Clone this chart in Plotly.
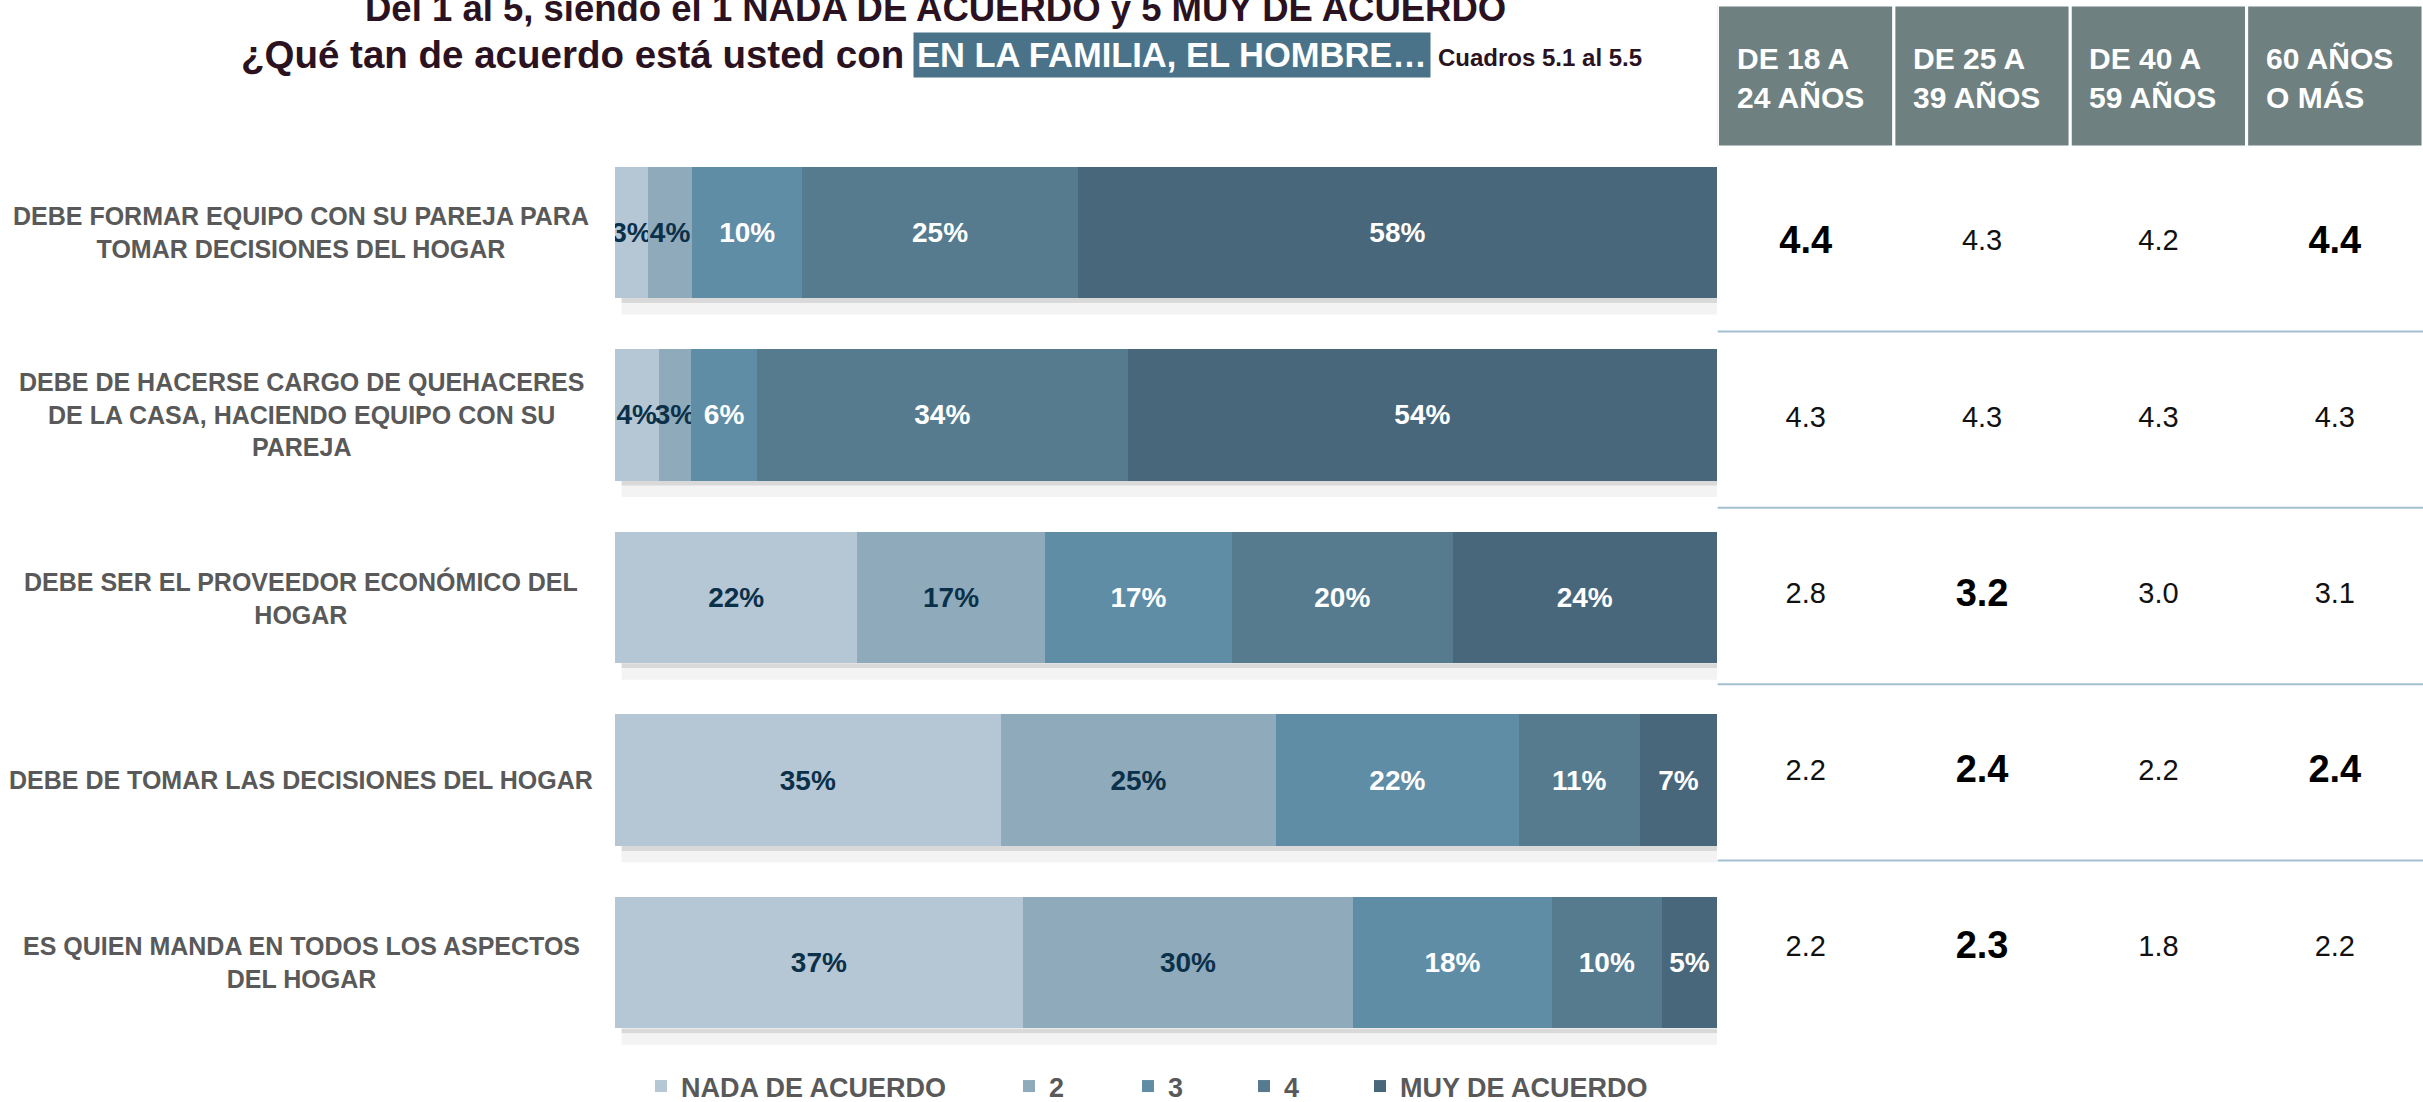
import plotly.graph_objects as go

W, H = 2423, 1102

# ---------------- data ----------------
categories = [
    "DEBE FORMAR EQUIPO CON SU PAREJA PARA<br>TOMAR DECISIONES DEL HOGAR",
    "DEBE DE HACERSE CARGO DE QUEHACERES<br>DE LA CASA, HACIENDO EQUIPO CON SU<br>PAREJA",
    "DEBE SER EL PROVEEDOR ECONÓMICO DEL<br>HOGAR",
    "DEBE DE TOMAR LAS DECISIONES DEL HOGAR",
    "ES QUIEN MANDA EN TODOS LOS ASPECTOS<br>DEL HOGAR",
]
series_names = ["NADA DE ACUERDO", "2", "3", "4", "MUY DE ACUERDO"]
nada_de_acuerdo = [3, 4, 22, 35, 37]
nivel_2 = [4, 3, 17, 25, 30]
nivel_3 = [10, 6, 17, 22, 18]
nivel_4 = [25, 34, 20, 11, 10]
muy_de_acuerdo = [58, 54, 24, 7, 5]

age_groups = ["DE 18 A<br>24 AÑOS", "DE 25 A<br>39 AÑOS", "DE 40 A<br>59 AÑOS", "60 AÑOS<br>O MÁS"]
prom_18_24 = [4.4, 4.3, 2.8, 2.2, 2.2]
prom_25_39 = [4.3, 4.3, 3.2, 2.4, 2.3]
prom_40_59 = [4.2, 4.3, 3.0, 2.2, 1.8]
prom_60_mas = [4.4, 4.3, 3.1, 2.4, 2.2]

# ---------------- style ----------------
FONT = "Liberation Sans, Arial, sans-serif"
bar_colors = ["#b5c7d4", "#8eaabb", "#5f8da6", "#567b8f", "#49677b"]
text_colors = ["#0b3049", "#0b3049", "#ffffff", "#ffffff", "#ffffff"]
legend_x_px = [641, 1009, 1128, 1244, 1360]


def py(px):
    return 1 - px / H


def pxx(px):
    return px / W


fig = go.Figure()

series = [nada_de_acuerdo, nivel_2, nivel_3, nivel_4, muy_de_acuerdo]
legend_ids = ["legend", "legend2", "legend3", "legend4", "legend5"]
for name, vals, col, tcol, lid in zip(series_names, series, bar_colors, text_colors, legend_ids):
    fig.add_trace(go.Bar(
        y=categories, x=vals, orientation="h", name=name,
        marker=dict(color=col, line=dict(width=0)),
        text=[f"{v}%" for v in vals], textposition="inside",
        insidetextanchor="middle", textangle=0, constraintext="none",
        insidetextfont=dict(family=FONT, size=28, color=tcol, weight="bold"),
        legend=lid, hoverinfo="x+y+name",
    ))

# table values
cols = [prom_18_24, prom_25_39, prom_40_59, prom_60_mas]
nx, ny, nt, bx, by, bt = [], [], [], [], [], []
for i, cat in enumerate(categories):
    row = [c[i] for c in cols]
    mx = max(row)
    all_eq = min(row) == mx
    for j, v in enumerate(row):
        if v == mx and not all_eq:
            bx.append(age_groups[j]); by.append(cat); bt.append(f"{v:.1f}")
        else:
            nx.append(age_groups[j]); ny.append(cat); nt.append(f"{v:.1f}")

fig.add_trace(go.Scatter(
    x=nx, y=ny, text=nt, mode="text", xaxis="x2", yaxis="y2",
    textfont=dict(family=FONT, size=29, color="#111111"), showlegend=False,
    hoverinfo="text",
))
fig.add_trace(go.Scatter(
    x=bx, y=by, text=bt, mode="text", xaxis="x2", yaxis="y2",
    textfont=dict(family=FONT, size=38, color="#000000", weight="bold"), showlegend=False,
    hoverinfo="text",
))

shapes = []
annotations = []
n = len(categories)
half = 0.36
for i in range(n):
    shapes.append(dict(type="rect", xref="x", yref="y", x0=0.6, x1=100,
                       y0=i + half, y1=i + half + 0.028, fillcolor="#d9d9d9",
                       line=dict(width=0), layer="below"))
    shapes.append(dict(type="rect", xref="x", yref="y", x0=0.6, x1=100,
                       y0=i + half + 0.028, y1=i + half + 0.09, fillcolor="#f3f3f3",
                       line=dict(width=0), layer="below"))
    annotations.append(dict(
        xref="paper", yref="y", x=pxx(301), y=categories[i],
        text=categories[i], showarrow=False, xanchor="center", yanchor="middle",
        align="center", font=dict(family=FONT, size=25, color="#595959", weight="bold"),
    ))

# header boxes
for j, g in enumerate(age_groups):
    shapes.append(dict(type="rect", xref="x2", yref="paper", x0=j - 0.5, x1=j + 0.5,
                       y0=py(147), y1=py(5), fillcolor="#6f8081",
                       line=dict(color="#ffffff", width=3)))
    annotations.append(dict(
        xref="x2", yref="paper", x=j - 0.5, xshift=17, y=py(78), text=g,
        showarrow=False, xanchor="left", yanchor="middle", align="left",
        font=dict(family=FONT, size=30, color="#ffffff", weight="bold"),
    ))

# table separators
for i in range(n - 1):
    shapes.append(dict(type="line", xref="x2", yref="y2", x0=-0.5, x1=3.5,
                       y0=i + 0.5, y1=i + 0.5, line=dict(color="#a3bfd1", width=2)))

# titles
TCOL = "#2b1221"
annotations += [
    dict(xref="paper", yref="paper", x=pxx(935), y=py(8), xanchor="center", yanchor="middle",
         text="Del 1 al 5, siendo el 1 NADA DE ACUERDO y 5 MUY DE ACUERDO", showarrow=False,
         font=dict(family=FONT, size=36.5, color=TCOL, weight="bold")),
    dict(xref="paper", yref="paper", x=pxx(906), y=py(54), xanchor="right", yanchor="middle",
         text="¿Qué tan de acuerdo está usted con", showarrow=False,
         font=dict(family=FONT, size=38.5, color=TCOL, weight="bold")),
    dict(xref="paper", yref="paper", x=pxx(913), y=py(55), xanchor="left", yanchor="middle",
         text="EN LA FAMILIA, EL HOMBRE…", showarrow=False, bgcolor="#4a7389", borderpad=3,
         font=dict(family=FONT, size=34.5, color="#ffffff", weight="bold")),
    dict(xref="paper", yref="paper", x=pxx(1436), y=py(58), xanchor="left", yanchor="middle",
         text="Cuadros 5.1 al 5.5", showarrow=False,
         font=dict(family=FONT, size=24, color=TCOL, weight="bold")),
]

legend_common = dict(orientation="h", yanchor="bottom", xanchor="left", y=-9 / H,
                     bgcolor="rgba(0,0,0,0)", borderwidth=0,
                     font=dict(family=FONT, size=27, color="#595959", weight="bold"))
legends = {}
for lid, lx in zip(legend_ids, legend_x_px):
    legends[lid] = dict(legend_common, x=pxx(lx))

fig.update_layout(
    width=W, height=H,
    margin=dict(l=0, r=0, t=0, b=0, autoexpand=False),
    paper_bgcolor="#ffffff", plot_bgcolor="rgba(0,0,0,0)",
    barmode="stack", barnorm="percent", bargap=0.28,
    xaxis=dict(domain=[pxx(615), pxx(1717)], range=[0, 100], visible=False, fixedrange=True),
    yaxis=dict(domain=[py(1054), py(141)], type="category", categoryarray=categories,
               range=[n - 0.5, -0.5], visible=False),
    xaxis2=dict(domain=[pxx(1717.5), 1], type="category", categoryarray=age_groups,
                range=[-0.5, 3.5], visible=False, anchor="y2"),
    yaxis2=dict(domain=[py(1037), py(155)], type="category", categoryarray=categories,
                range=[n - 0.5, -0.5], visible=False, anchor="x2"),
    shapes=shapes, annotations=annotations,
    showlegend=True,
    **legends,
)

fig.write_html("out.html", config={"displayModeBar": False},
               post_script="document.body.style.margin='0';")
